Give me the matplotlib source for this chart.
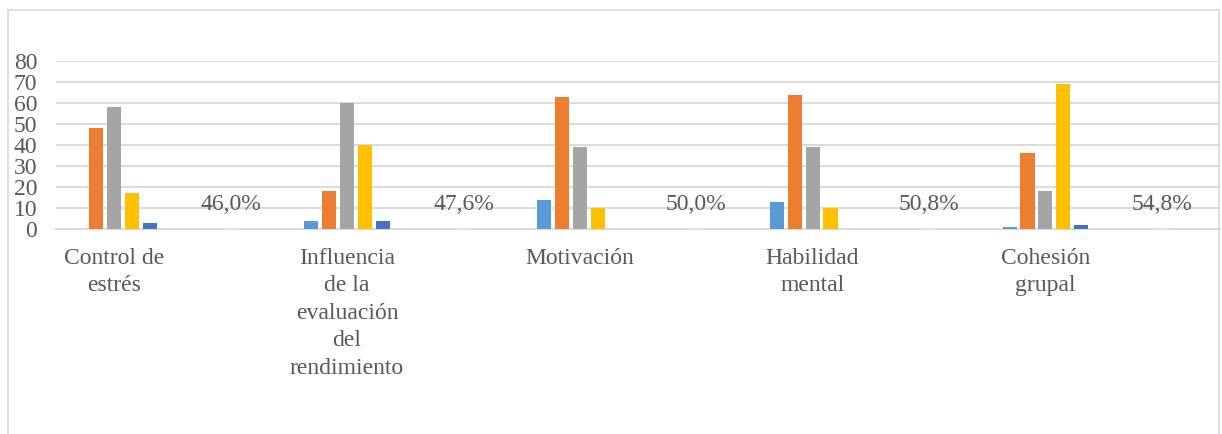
import numpy as np
import matplotlib.pyplot as plt
from matplotlib.patches import Rectangle

# categories and series values
categories = ["Control de\nestrés", "Influencia\nde la\nevaluación\ndel\nrendimiento",
              "Motivación", "Habilidad\nmental", "Cohesión\ngrupal"]
s1 = [0, 4, 14, 13, 1]
s2 = [48, 18, 63, 64, 36]
s3 = [58, 60, 39, 39, 18]
s4 = [17, 40, 10, 10, 69]
s5 = [3, 4, 0, 0, 2]
pct = [0.460, 0.476, 0.500, 0.508, 0.548]
pct_labels = ["46,0%", "47,6%", "50,0%", "50,8%", "54,8%"]

colors = ["#5B9BD5", "#ED7D31", "#A5A5A5", "#FFC000", "#4472C4"]
text_col = "#595959"

plt.rcParams['font.family'] = ['Liberation Serif', 'DejaVu Serif']

fig = plt.figure(figsize=(12.22, 4.34), dpi=100)
W, H = 1222, 434
ax = fig.add_axes([56 / W, (H - 229) / H, (1220 - 56) / W, 168 / H])

# chart frame (bottom edge falls outside the picture)
fig.patches.append(Rectangle((8 / W, -0.05), (1219 - 8) / W, 1.05 - 10 / H,
                             transform=fig.transFigure, fill=False,
                             edgecolor="#D9D9D9", linewidth=1.2))

main_x = np.arange(len(categories)) * 2
pct_x = main_x + 1
bw = 1 / 8.27
step = bw * 1.27

for i, (vals, c) in enumerate(zip([s1, s2, s3, s4, s5], colors)):
    ax.bar(main_x + (i - 2) * step, vals, width=bw, color=c, zorder=3)

ax.bar(pct_x, pct, width=bw, color="#E7E6E6", zorder=3)
for x, v, lab in zip(pct_x, pct, pct_labels):
    ax.annotate(lab, (x, v), xytext=(0, 17), textcoords="offset points",
                ha="center", va="center", fontsize=17, color=text_col)

ax.set_xlim(-0.5, 9.5)
ax.set_ylim(0, 80)
ax.set_yticks(range(0, 81, 10))
ax.set_xticks(main_x)
ax.set_xticklabels(categories, linespacing=1.41, va="top")
ax.tick_params(axis="both", length=0, labelsize=17, labelcolor=text_col)
ax.tick_params(axis="x", pad=13.5)
ax.tick_params(axis="y", pad=13.5)
for lab in ax.get_yticklabels():
    lab.set_horizontalalignment("right")

ax.grid(axis="y", color="#D9D9D9", linewidth=1.3, zorder=0)
for sp in ["top", "right", "left"]:
    ax.spines[sp].set_visible(False)
ax.spines["bottom"].set_color("#D9D9D9")
ax.spines["bottom"].set_linewidth(1.3)

fig.savefig("out.png", dpi=100)
